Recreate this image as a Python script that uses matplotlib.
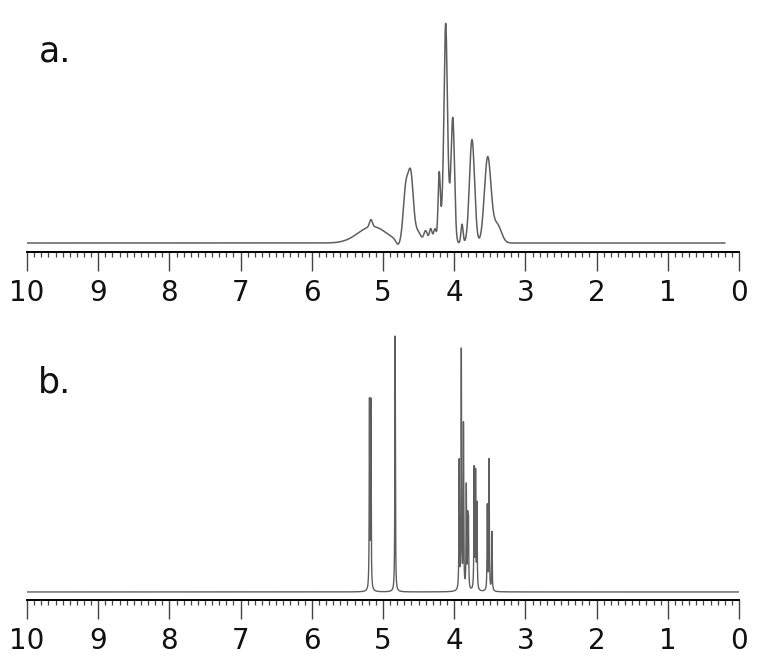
import numpy as np
import matplotlib
matplotlib.use("Agg")
import matplotlib.pyplot as plt
from matplotlib.ticker import MultipleLocator

plt.rcParams["font.family"] = ["DejaVu Sans"]

A_CENTERS = [5.15, 5.17, 4.79, 4.68, 4.61, 4.52, 4.40, 4.33, 4.27, 4.21, 4.17, 4.12, 4.07, 4.02, 3.89, 3.75, 3.53, 3.40]
A_HEIGHTS = [0.07, 0.03, -0.02, 0.22, 0.27, 0.05, 0.05, 0.06, 0.06, 0.30, 0.08, 0.93, 0.10, 0.53, 0.08, 0.44, 0.36, 0.08]
A_WIDTHS = [0.20, 0.02, 0.03, 0.035, 0.035, 0.05, 0.025, 0.02, 0.02, 0.016, 0.015, 0.024, 0.02, 0.024, 0.015, 0.036, 0.046, 0.06]

# b. simulated spectrum: line list (ppm, height)
B_CENTERS = [5.19, 5.17, 4.83, 3.93, 3.90, 3.87, 3.83, 3.81, 3.80, 3.72, 3.70, 3.68, 3.535, 3.51, 3.47]
B_HEIGHTS = [0.73, 0.73, 1.00, 0.50, 0.93, 0.64, 0.40, 0.26, 0.25, 0.47, 0.45, 0.33, 0.33, 0.51, 0.23]

PPM_TICKS = list(range(10, -1, -1))
LINE_COLOR = "#5e5e5e"


def gauss_sum(x, centers, heights, widths):
    y = np.zeros_like(x)
    for c, h, w in zip(centers, heights, widths):
        y += h * np.exp(-0.5 * ((x - c) / w) ** 2)
    return y


def lorentz_sum(x, centers, heights, hwhm=0.004):
    y = np.zeros_like(x)
    for c, h in zip(centers, heights):
        y += h / (1 + ((x - c) / hwhm) ** 2)
    return y


def style_axis(ax, ylim):
    ax.set_xlim(10, 0)
    ax.set_ylim(*ylim)
    for s in ("top", "left", "right"):
        ax.spines[s].set_visible(False)
    ax.spines["bottom"].set_linewidth(1.4)
    ax.set_yticks([])
    ax.xaxis.set_minor_locator(MultipleLocator(0.1))
    ax.set_xticks(PPM_TICKS)
    ax.set_xticklabels([str(t) for t in PPM_TICKS])
    ax.tick_params(axis="x", which="major", length=13.5, width=1.0, color="#444444",
                   labelsize=20, pad=6, labelcolor="#111111")
    ax.tick_params(axis="x", which="minor", length=3.8, width=0.9, color="#444444")
    ax.patch.set_alpha(0)


fig = plt.figure(figsize=(7.57, 6.62), dpi=100)
ax_a = fig.add_axes([0.0357, 0.6193, 0.9405, 0.3731])
ax_b = fig.add_axes([0.0357, 0.0937, 0.9405, 0.4079])

x_a = np.linspace(10.05, 0.2, 6000)
ax_a.plot(x_a, gauss_sum(x_a, A_CENTERS, A_HEIGHTS, A_WIDTHS), color=LINE_COLOR, lw=1.1)
style_axis(ax_a, (-0.0383, 1.0128))

x_b = np.linspace(10.05, 0.0, 40000)
ax_b.plot(x_b, lorentz_sum(x_b, B_CENTERS, B_HEIGHTS), color=LINE_COLOR, lw=1.0)
style_axis(ax_b, (-0.03125, 1.0234))

fig.text(0.051, 0.907, "a.", fontsize=25, color="#111111")
fig.text(0.050, 0.407, "b.", fontsize=25, color="#111111")

fig.savefig("out.png", dpi=100)
